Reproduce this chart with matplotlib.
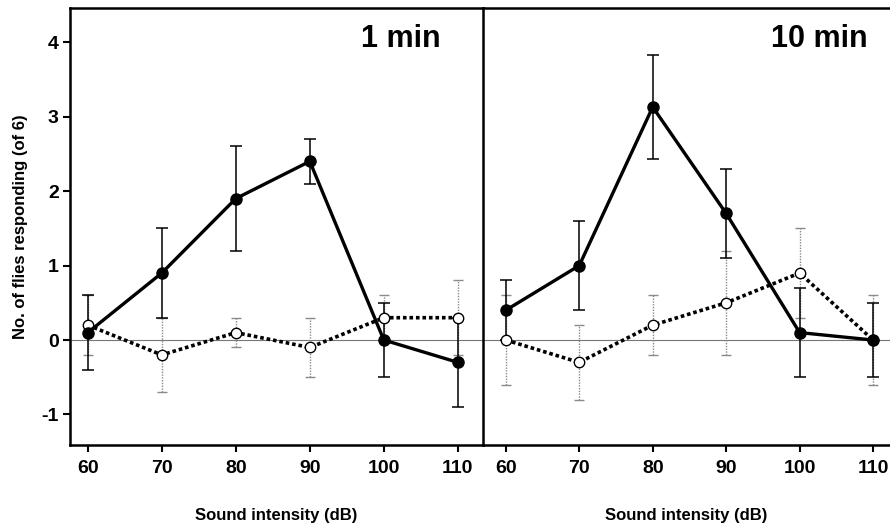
import matplotlib
matplotlib.use("Agg")
import matplotlib.pyplot as plt

plt.rcParams['font.family'] = ['Liberation Sans', 'DejaVu Sans']
plt.rcParams['font.weight'] = 'bold'

x = [60, 70, 80, 90, 100, 110]

# 1 min panel
filled_1 = [0.1, 0.9, 1.9, 2.4, 0.0, -0.3]
filled_1_err = [0.5, 0.6, 0.7, 0.3, 0.5, 0.6]
open_1 = [0.2, -0.2, 0.1, -0.1, 0.3, 0.3]
open_1_err = [0.4, 0.5, 0.2, 0.4, 0.3, 0.5]

# 10 min panel
filled_10 = [0.4, 1.0, 3.13, 1.7, 0.1, 0.0]
filled_10_err = [0.4, 0.6, 0.7, 0.6, 0.6, 0.5]
open_10 = [0.0, -0.3, 0.2, 0.5, 0.9, 0.0]
open_10_err = [0.6, 0.5, 0.4, 0.7, 0.6, 0.6]

xticks = [60, 70, 80, 90, 100, 110]
yticks = [-1, 0, 1, 2, 3, 4]

fig = plt.figure(figsize=(8.9, 5.23), dpi=100)
W, H = 890, 523
ax2 = fig.add_axes([483 / W, 1 - 445 / H, (890 - 483) / W, (445 - 8) / H])
ax1 = fig.add_axes([70 / W, 1 - 445 / H, (483 - 70) / W, (445 - 8) / H])
ax1.patch.set_visible(False)

def draw(ax, f, fe, o, oe, label, lx, ha):
    ax.axhline(0, color='#777777', lw=0.8, zorder=1)
    eb = ax.errorbar(x, o, yerr=oe, fmt='none', ecolor='#8a8a8a', elinewidth=1.0,
                     capsize=3.5, capthick=1.0, zorder=2)
    for c in eb[2]:
        c.set_linestyle((0, (1, 1)))
    ax.errorbar(x, f, yerr=fe, fmt='none', ecolor='black', elinewidth=1.1,
                capsize=4, capthick=1.1, zorder=3)
    ax.plot(x, o, linestyle=(0, (1, 0.8)), color='black', lw=2.6,
            marker='o', markersize=7.5, markerfacecolor='white',
            markeredgecolor='black', markeredgewidth=1.0, zorder=4)
    ax.plot(x, f, linestyle='-', color='black', lw=2.4,
            marker='o', markersize=8, markerfacecolor='black',
            markeredgecolor='black', zorder=5)
    ax.text(lx, 0.93, label, transform=ax.transAxes, ha=ha, va='center',
            fontsize=22, fontweight='bold')
    ax.set_ylim(-1.41, 4.46)
    ax.set_xticks(xticks)
    ax.set_xticklabels([str(t) for t in xticks], fontsize=14, fontweight='bold')
    ax.tick_params(axis='x', direction='out', length=5, width=1.5, pad=6)
    ax.set_xlabel('Sound intensity (dB)', fontsize=12, fontweight='bold', labelpad=22)
    for s in ax.spines.values():
        s.set_linewidth(1.8)

draw(ax1, filled_1, filled_1_err, open_1, open_1_err, '1 min', 0.80, 'center')
draw(ax2, filled_10, filled_10_err, open_10, open_10_err, '10 min', 0.945, 'right')

ax1.set_xlim(57.6, 113.4)
ax2.set_xlim(56.9, 112.3)

ax1.set_yticks(yticks)
ax1.set_yticklabels([str(t) for t in yticks], fontsize=14, fontweight='bold')
ax1.tick_params(axis='y', direction='out', length=5, width=1.5, pad=3)
ax1.set_ylabel('No. of flies responding (of 6)', fontsize=12, fontweight='bold', labelpad=10)

ax2.set_yticks([])
ax2.spines['left'].set_visible(False)
ax2.spines['right'].set_visible(False)

fig.savefig('out.png', dpi=100)
